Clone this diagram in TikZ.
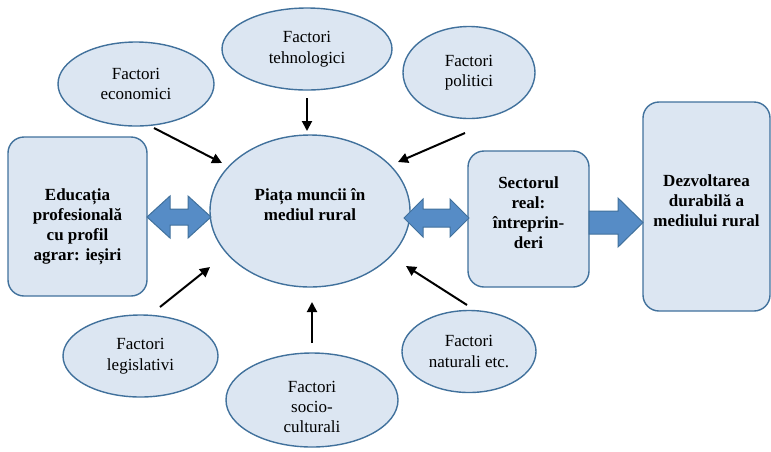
\documentclass[tikz,border=0pt]{standalone}
\usepackage{fontspec}
\setmainfont{Liberation Serif}
\usetikzlibrary{shapes.geometric,arrows.meta}
\definecolor{boxfill}{HTML}{DCE6F2}
\definecolor{boxline}{RGB}{65,113,156}
\definecolor{arrfill}{RGB}{86,140,198}
\tikzset{
  factor/.style={ellipse,draw=boxline,fill=boxfill,line width=1.4pt,inner sep=0pt,align=center,font=\fontsize{17}{20.5}\selectfont},
  bigbox/.style={rectangle,rounded corners=16pt,draw=boxline,fill=boxfill,line width=1.4pt,inner sep=0pt},
  boldtext/.style={align=center,inner sep=0pt,font=\bfseries\fontsize{17}{20}\selectfont},
  plaintext/.style={align=center,inner sep=0pt,font=\fontsize{17}{20}\selectfont},
  infl/.style={-{Triangle[length=10pt,width=10pt]},line width=2pt,black},
  blockarr/.style={draw=boxline,fill=arrfill,line width=1pt,line join=miter}
}
\begin{document}
\begin{tikzpicture}[x=1pt,y=-1pt]
\useasboundingbox (0,0) rectangle (771,451);
% factor ellipses
\node[factor,minimum width=156pt,minimum height=84pt] (eco) at (136,84) {Factori\\economici};
\node[factor,minimum width=170pt,minimum height=82pt] (teh) at (307,49) {Factori\\tehnologici};
\node[factor,minimum width=132pt,minimum height=92pt] (pol) at (469,72.5) {Factori\\politici};
\node[factor,minimum width=155pt,minimum height=82pt] (leg) at (140.5,356) {Factori\\legislativi};
\node[factor,minimum width=172pt,minimum height=94pt] (soc) at (312,400) {};
\node[plaintext] (socT) at (312,407) {Factori\\socio-\\culturali};
\node[factor,minimum width=134pt,minimum height=82pt] (nat) at (469,351.5) {Factori\\naturali etc.};
% central ellipse
\node[factor,minimum width=200pt,minimum height=152pt] (piata) at (310,211) {};
\node[boldtext] (piataT) at (310,205) {Piața muncii în\\mediul rural};
% boxes
\node[bigbox,minimum width=139pt,minimum height=159pt] (edu) at (77.5,216.5) {};
\node[boldtext] (eduT) at (77.5,226.5) {Educația\\profesională\\cu profil\\agrar: ieșiri};
\node[bigbox,minimum width=121pt,minimum height=136pt] (sec) at (528.5,219) {};
\node[boldtext] (secT) at (528.5,213) {Sectorul\\real:\\întreprin-\\deri};
\node[bigbox,minimum width=127pt,minimum height=209pt] (dez) at (706.5,206.5) {};
\node[boldtext] (dezT) at (706.5,201) {Dezvoltarea\\durabilă a\\mediului rural};
% influence arrows
\coordinate (e1) at (154,128); \coordinate (e2) at (222,163);
\coordinate (t1) at (307,98);  \coordinate (t2) at (307,131);
\coordinate (p1) at (465,133); \coordinate (p2) at (398,162);
\coordinate (l1) at (160,307); \coordinate (l2) at (210,267);
\coordinate (s1) at (312,343); \coordinate (s2) at (312,302);
\coordinate (n1) at (467,305); \coordinate (n2) at (406,266);
\draw[infl] (e1) -- (e2);
\draw[infl] (t1) -- (t2);
\draw[infl] (p1) -- (p2);
\draw[infl] (l1) -- (l2);
\draw[infl] (s1) -- (s2);
\draw[infl] (n1) -- (n2);
% block arrows
\draw[blockarr] (147,217) -- (170,196) -- (170,209) -- (188,209) -- (188,196) -- (211,217) -- (188,238) -- (188,225) -- (170,225) -- (170,238) -- cycle;
\draw[blockarr] (404,218) -- (423,199) -- (423,209) -- (450,209) -- (450,199) -- (469,218) -- (450,237) -- (450,227) -- (423,227) -- (423,237) -- cycle;
\draw[blockarr] (589,211) -- (618,211) -- (618,198) -- (643,222.5) -- (618,247) -- (618,234) -- (589,234) -- cycle;
\end{tikzpicture}
\end{document}
